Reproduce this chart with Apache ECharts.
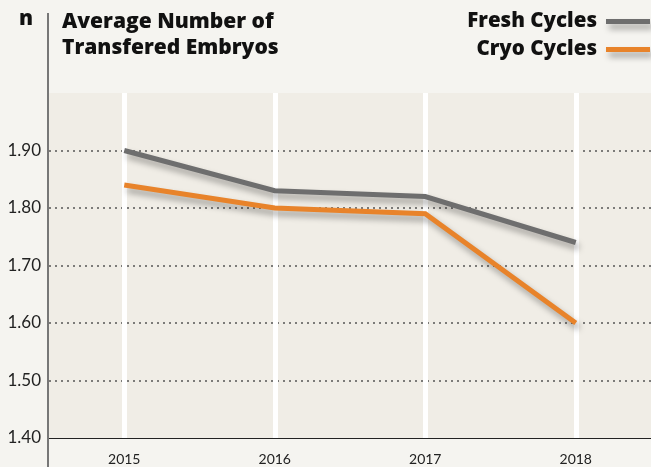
<!DOCTYPE html>
<html><head><meta charset="utf-8">
<script src="https://cdn.jsdelivr.net/npm/echarts@6/dist/echarts.min.js"></script>
<style>html,body{margin:0;padding:0;background:#f5f4f0}#c{width:651px;height:467px}</style>
</head><body><div id="c"></div>
<script>
var categories = ['2015', '2016', '2017', '2018'];
var freshValues = [1.90, 1.83, 1.82, 1.74];
var cryoValues = [1.84, 1.80, 1.79, 1.60];
var seriesNames = ['Fresh Cycles', 'Cryo Cycles'];
var yTicks = [1.4, 1.5, 1.6, 1.7, 1.8, 1.9, 2.0];

var chart = echarts.init(document.getElementById('c'));
var FONT = 'Lato, "Open Sans", sans-serif';
var BFONT = '"Open Sans", sans-serif';
var shadow = {shadowColor: 'rgba(0,0,0,0.35)', shadowBlur: 6, shadowOffsetX: 3, shadowOffsetY: 5};
chart.setOption({
  backgroundColor: '#f5f4f0',
  animation: false,
  grid: {left: 49, top: 93, bottom: 29, width: 604, show: true, backgroundColor: '#f0ede6', borderWidth: 0},
  legend: {
    orient: 'vertical', right: -4, top: 6, align: 'right', itemGap: 7,
    itemWidth: 44, itemHeight: 5, icon: 'rect',
    textStyle: {fontFamily: BFONT, fontWeight: 800, fontSize: 20.5, color: '#111', padding: [0, 4, 0, 0]},
    data: [
      {name: seriesNames[0], itemStyle: Object.assign({color: '#6e6e6e'}, shadow)},
      {name: seriesNames[1], itemStyle: Object.assign({color: '#e8832a'}, shadow)}
    ]
  },
  graphic: [
    {type: 'line', shape: {x1: 48, y1: 13, x2: 48, y2: 467}, style: {stroke: '#777', lineWidth: 2}, z: 10},
    {type: 'text', left: 19, top: 9, style: {text: 'n', font: '800 21px ' + BFONT, fill: '#111'}},
    {type: 'text', left: 62, top: 9, style: {text: 'Average Number of\nTransfered Embryos', font: '800 21px ' + BFONT, fill: '#111', lineHeight: 26}}
  ],
  xAxis: {
    type: 'category', data: categories, boundaryGap: true,
    axisLine: {lineStyle: {color: '#222', width: 1}},
    axisTick: {show: false},
    axisLabel: {fontFamily: FONT, fontSize: 14, color: '#222', margin: 14},
    splitLine: {show: false}
  },
  yAxis: {
    type: 'value', min: yTicks[0], max: yTicks[yTicks.length - 1], interval: 0.1,
    axisLine: {show: false}, axisTick: {show: false},
    axisLabel: {fontFamily: FONT, fontSize: 17, color: '#222', margin: 8, showMaxLabel: false,
      formatter: function (v) { return v.toFixed(2); }},
    splitLine: {show: true, lineStyle: {type: [2, 4], width: 1.5,
      color: ['transparent', '#555', '#555', '#555', '#555', '#555', 'transparent']}}
  },
  series: [
    {
      name: seriesNames[0], type: 'line', data: freshValues, showSymbol: false, symbol: 'none',
      lineStyle: Object.assign({color: '#6e6e6e', width: 5, cap: 'butt', join: 'miter'}, shadow),
      itemStyle: {color: '#6e6e6e'}, z: 3,
      markLine: {
        silent: true, symbol: 'none', label: {show: false}, z: 1,
        lineStyle: {color: '#ffffff', width: 5, type: 'solid', shadowBlur: 0},
        data: categories.map(function (c) { return [{coord: [c, yTicks[0]]}, {coord: [c, yTicks[yTicks.length - 1]]}]; })
      }
    },
    {
      name: seriesNames[1], type: 'line', data: cryoValues, showSymbol: false, symbol: 'none',
      lineStyle: Object.assign({color: '#e8832a', width: 5, cap: 'butt', join: 'miter'}, shadow),
      itemStyle: {color: '#e8832a'}, z: 4
    }
  ]
});
</script></body></html>
